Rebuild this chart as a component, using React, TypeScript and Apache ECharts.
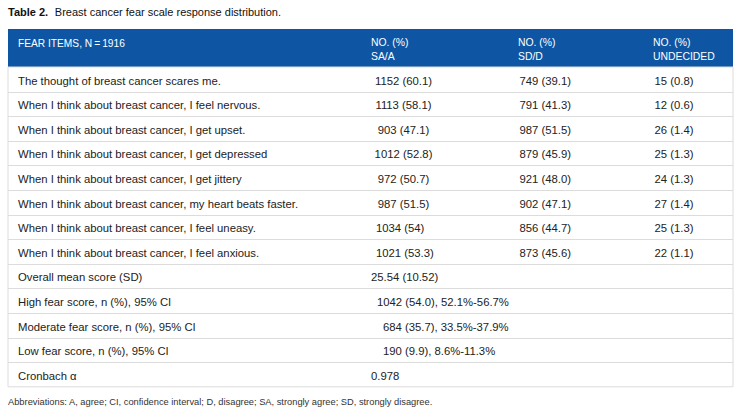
import React, { useEffect, useRef } from "react";
import * as echarts from "echarts";

const titleBold = "Table 2.";
const titleText = "Breast cancer fear scale response distribution.";
const headerFirst = "FEAR ITEMS, N\u2009=\u20091916";
const headerCols = ["NO. (%)\nSA/A", "NO. (%)\nSD/D", "NO. (%)\nUNDECIDED"];
const items = [
  "The thought of breast cancer scares me.",
  "When I think about breast cancer, I feel nervous.",
  "When I think about breast cancer, I get upset.",
  "When I think about breast cancer, I get depressed",
  "When I think about breast cancer, I get jittery",
  "When I think about breast cancer, my heart beats faster.",
  "When I think about breast cancer, I feel uneasy.",
  "When I think about breast cancer, I feel anxious.",
];
const saA = ["1152 (60.1)", "1113 (58.1)", "903 (47.1)", "1012 (52.8)", "972 (50.7)", "987 (51.5)", "1034 (54)", "1021 (53.3)"];
const sdD = ["749 (39.1)", "791 (41.3)", "987 (51.5)", "879 (45.9)", "921 (48.0)", "902 (47.1)", "856 (44.7)", "873 (45.6)"];
const undecided = ["15 (0.8)", "12 (0.6)", "26 (1.4)", "25 (1.3)", "24 (1.3)", "27 (1.4)", "25 (1.3)", "22 (1.1)"];
const summaryLabels = [
  "Overall mean score (SD)",
  "High fear score, n (%), 95% CI",
  "Moderate fear score, n (%), 95% CI",
  "Low fear score, n (%), 95% CI",
  "Cronbach \u03b1",
];
const summaryValues = ["25.54 (10.52)", "1042 (54.0), 52.1%-56.7%", "684 (35.7), 33.5%-37.9%", "190 (9.9), 8.6%-11.3%", "0.978"];
const footnote = "Abbreviations: A, agree; CI, confidence interval; D, disagree; SA, strongly agree; SD, strongly disagree.";

const FONT = "'Liberation Sans', Arial, Helvetica, sans-serif";
const BLUE = "#0e56a4";
const LINE = "#dcdcdc";
const TXT = "#222";

function buildGraphics() {
  const g: any[] = [];
  const left = 8, right = 733, headTop = 29, headBottom = 67;
  const rowH = 24.6;
  const nRows = items.length + summaryLabels.length;
  const bottom = headBottom + nRows * rowH;

  g.push({
    type: "text", left: left, top: 6,
    style: {
      text: "{b|" + titleBold + "}  {n|" + titleText + "}",
      rich: {
        b: { fontFamily: FONT, fontSize: 11, fontWeight: "bold", fill: "#111" },
        n: { fontFamily: FONT, fontSize: 11, fill: "#111" },
      },
    },
  });
  g.push({ type: "rect", shape: { x: left, y: headTop, width: right - left, height: headBottom - headTop }, style: { fill: BLUE } });
  g.push({ type: "text", x: 18, y: 43, style: { text: headerFirst, fontFamily: FONT, fontSize: 10.2, fill: "#fff", textVerticalAlign: "middle" } });
  const headX = [371, 518, 653];
  headerCols.forEach((h, i) => {
    g.push({ type: "text", x: headX[i], y: 49.5, style: { text: h, fontFamily: FONT, fontSize: 10.4, lineHeight: 13.5, fill: "#fff", textVerticalAlign: "middle" } });
  });
  g.push({ type: "rect", shape: { x: left, y: headBottom, width: right - left, height: bottom - headBottom }, style: { fill: "#fff", stroke: LINE, lineWidth: 1 } });
  for (let r = 1; r < nRows; r++) {
    const y = Math.round(headBottom + r * rowH) + 0.5;
    g.push({ type: "line", shape: { x1: left, y1: y, x2: right, y2: y }, style: { stroke: LINE, lineWidth: 1 } });
  }
  const centerRows = 6;
  const textStyle = (t: string, align: string = "left") => ({ text: t, fontFamily: FONT, fontSize: 11.3, fill: TXT, textVerticalAlign: "middle", textAlign: align });
  items.forEach((it, r) => {
    const y = headBottom + r * rowH + 13.5;
    g.push({ type: "text", x: 18, y, style: textStyle(it) });
    if (r < centerRows) g.push({ type: "text", x: 403.5, y, style: textStyle(saA[r], "center") });
    else g.push({ type: "text", x: 376, y, style: textStyle(saA[r]) });
    g.push({ type: "text", x: 519.5, y, style: textStyle(sdD[r]) });
    g.push({ type: "text", x: 654.5, y, style: textStyle(undecided[r]) });
  });
  const sumX = [371, 377, 383, 383, 371];
  summaryLabels.forEach((lab, i) => {
    const r = items.length + i;
    const y = headBottom + r * rowH + 13.5;
    g.push({ type: "text", x: 18, y, style: textStyle(lab) });
    g.push({ type: "text", x: sumX[i], y, style: textStyle(summaryValues[i]) });
  });
  g.push({ type: "text", x: 8, y: 402, style: { text: footnote, fontFamily: FONT, fontSize: 9.3, fill: "#333", textVerticalAlign: "middle" } });
  return g;
}

export default function App() {
  const ref = useRef<HTMLDivElement>(null);
  useEffect(() => {
    if (!ref.current) return;
    const chart = echarts.init(ref.current, null, { renderer: "svg" });
    chart.setOption({
      animation: false,
      backgroundColor: "#fff",
      graphic: buildGraphics(),
    });
    return () => chart.dispose();
  }, []);
  return <div ref={ref} style={{ position: "fixed", left: 0, top: 0, width: 742, height: 417 }} />;
}
